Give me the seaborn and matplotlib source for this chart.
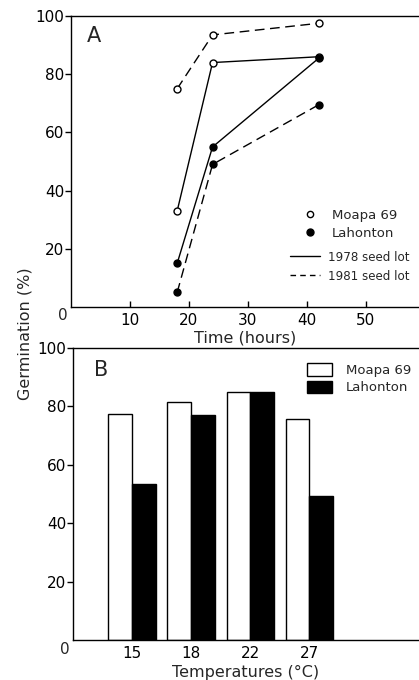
import matplotlib
matplotlib.use("Agg")
import matplotlib.pyplot as plt
import seaborn as sns
import pandas as pd
from matplotlib.lines import Line2D
from matplotlib.patches import Patch

# ---- data: panel A (germination over time) ----
time_hours = [18, 24, 42]
moapa_1978 = [33, 84, 86]
moapa_1981 = [75, 93.5, 97.5]
lahonton_1978 = [15, 55, 85.5]
lahonton_1981 = [5, 49, 69.5]
time_ticks = [10, 20, 30, 40, 50]
germ_ticks = [20, 40, 60, 80, 100]

# ---- data: panel B (germination by temperature) ----
temperatures = ["15", "18", "22", "27"]
moapa_temp = [77.3, 81.5, 84.8, 75.6]
lahonton_temp = [53.4, 77.2, 84.9, 49.2]
cultivars = ["Moapa 69", "Lahonton"]
seed_lots = ["1978 seed lot", "1981 seed lot"]

sns.set_theme(style="white")
plt.rcParams["font.family"] = ["DejaVu Sans"]

W, H = 419, 680
fig = plt.figure(figsize=(W / 100, H / 100), dpi=100)

def box(l, t, r, b):
    return [l / W, 1 - b / H, (r - l) / W, (b - t) / H]

axA = fig.add_axes(box(71, 16, 419, 307))
axB = fig.add_axes(box(73, 348, 419, 640))

FS_TICK = 11
FS_LAB = 11.5
FS_LEG = 9.5

# ---- Panel A ----
dfA = pd.DataFrame({"Time": time_hours * 4,
                    "Germ": moapa_1978 + moapa_1981 + lahonton_1978 + lahonton_1981,
                    "series": ["m78"] * 3 + ["m81"] * 3 + ["l78"] * 3 + ["l81"] * 3})
styles = {
    "m78": dict(mfc="white", dashed=False),
    "m81": dict(mfc="white", dashed=True),
    "l78": dict(mfc="black", dashed=False),
    "l81": dict(mfc="black", dashed=True),
}
for key, st in styles.items():
    sub = dfA[dfA["series"] == key]
    n_before = len(axA.lines)
    sns.lineplot(data=sub, x="Time", y="Germ", ax=axA, color="black", lw=1.0,
                 marker="o", markersize=5,
                 markerfacecolor=st["mfc"], markeredgecolor="black",
                 markeredgewidth=1.0, sort=False, estimator=None)
    for ln in axA.lines[n_before:]:
        if st["dashed"]:
            ln.set_linestyle((0, (7, 4)))
        else:
            ln.set_linestyle("-")

axA.set_xlim(0, 59)
axA.set_ylim(0, 100)
axA.set_xticks(time_ticks)
axA.set_yticks(germ_ticks)
axA.set_xlabel("Time (hours)", fontsize=FS_LAB, labelpad=2)
axA.set_ylabel("")
axA.tick_params(axis="x", direction="in", length=4, width=1, pad=4, labelsize=FS_TICK, bottom=True)
axA.tick_params(axis="y", direction="out", length=4, width=1, pad=1, labelsize=FS_TICK, left=True)
axA.text(0.065, 0.93, "A", transform=axA.transAxes, fontsize=15, ha="center", va="center")

h_markers = [
    Line2D([], [], ls="none", marker="o", ms=4.5, mfc="white", mec="black", mew=1.0),
    Line2D([], [], ls="none", marker="o", ms=5, mfc="black", mec="black"),
]
leg1 = axA.legend(h_markers, cultivars, loc="upper left", bbox_to_anchor=(0.635, 0.355),
                  frameon=False, fontsize=FS_LEG, handlelength=2.0, handletextpad=0.6,
                  labelspacing=0.35, borderaxespad=0)
axA.add_artist(leg1)
h_lines = [
    Line2D([], [], color="black", lw=1.0, ls="-"),
    Line2D([], [], color="black", lw=1.0, ls=(0, (4, 3))),
]
axA.legend(h_lines, seed_lots, loc="upper left",
           bbox_to_anchor=(0.615, 0.21), frameon=False, fontsize=8.6,
           handlelength=2.5, handletextpad=0.7, labelspacing=0.5, borderaxespad=0)

# ---- Panel B ----
dfB = pd.DataFrame({"Temp": temperatures * 2,
                    "Germ": moapa_temp + lahonton_temp,
                    "Cultivar": [cultivars[0]] * 4 + [cultivars[1]] * 4})
sns.barplot(data=dfB, x="Temp", y="Germ", hue="Cultivar", order=temperatures,
            hue_order=cultivars, palette={"Moapa 69": "white", "Lahonton": "black"},
            edgecolor="black", linewidth=1.0, width=0.8, ax=axB, legend=False)
axB.set_xlim(-1, 4.86)
axB.set_ylim(0, 100)
axB.set_yticks(germ_ticks)
axB.set_xlabel("Temperatures (°C)", fontsize=FS_LAB, labelpad=3)
axB.set_ylabel("")
axB.tick_params(axis="x", length=0, pad=4, labelsize=FS_TICK)
axB.tick_params(axis="y", direction="out", length=4, width=1, pad=1, labelsize=FS_TICK, left=True)
axB.text(0.08, 0.925, "B", transform=axB.transAxes, fontsize=15, ha="center", va="center")
h_bars = [Patch(facecolor="white", edgecolor="black", lw=1.0),
          Patch(facecolor="black", edgecolor="black", lw=1.0)]
axB.legend(h_bars, cultivars, loc="upper left", bbox_to_anchor=(0.66, 0.965),
           frameon=False, fontsize=FS_LEG, handlelength=1.9, handleheight=1.1,
           handletextpad=1.1, labelspacing=0.25, borderaxespad=0)

for ax in (axA, axB):
    for side in ("left", "bottom", "top"):
        ax.spines[side].set_visible(True)
        ax.spines[side].set_color("black")
        ax.spines[side].set_linewidth(1.0)
    ax.spines["right"].set_visible(False)
    ax.tick_params(colors="black")

# corner zeros and shared y label
fig.text(63 / W, 1 - 316 / H, "0", fontsize=FS_TICK, ha="center", va="center")
fig.text(65 / W, 1 - 650 / H, "0", fontsize=FS_TICK, ha="center", va="center")
fig.text(25 / W, 1 - 334 / H, "Germination (%)", rotation=90, fontsize=FS_LAB,
         ha="center", va="center")

fig.savefig("out.png", dpi=100)
